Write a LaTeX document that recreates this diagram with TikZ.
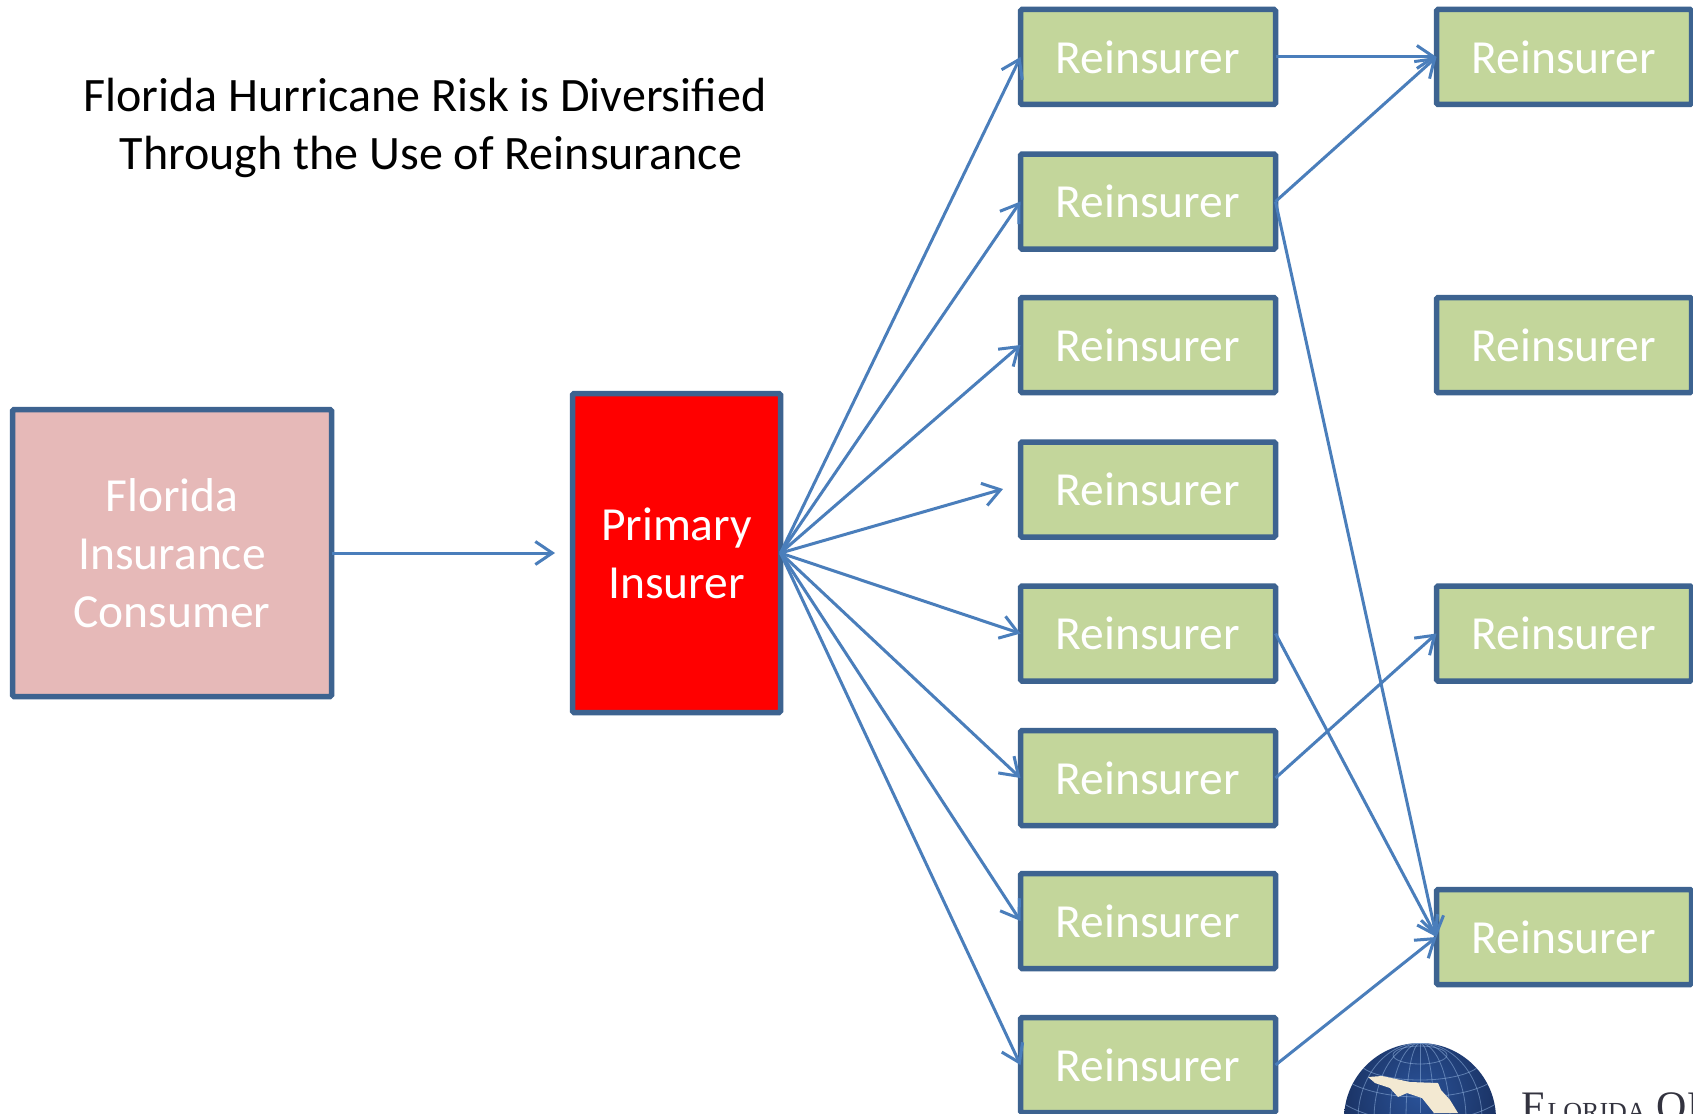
\documentclass[tikz,border=0pt]{standalone}
\usepackage{fontspec}
\setmainfont{Carlito}
\newfontfamily\logofont{Liberation Serif}
\usetikzlibrary{arrows.meta}
\definecolor{boxline}{HTML}{3D6390}
\definecolor{link}{HTML}{4A7EBB}
\definecolor{greenfill}{HTML}{C3D69B}
\definecolor{pinkfill}{HTML}{E6B9B8}
\definecolor{globeblue}{HTML}{2A5298}
\definecolor{globedark}{HTML}{14264F}
\definecolor{gridblue}{HTML}{8FB0DC}
\definecolor{landcream}{HTML}{F3E9D2}
\definecolor{logotextc}{HTML}{33333F}
\tikzset{
  basebox/.style={draw=boxline,line width=5.5pt,rounded corners=1.5pt,outer sep=0pt,inner sep=0pt,
    text=white,align=center,font=\fontsize{47.5}{58}\selectfont},
  reins/.style={basebox,fill=greenfill,minimum width=255pt,minimum height=95pt},
  linkline/.style={draw=link,line width=3pt,-{Straight Barb[length=17pt,width=23pt,line width=3pt]}},
}
\begin{document}
\begin{tikzpicture}[x=1pt,y=-1pt]
\useasboundingbox (0,0) rectangle (1693,1113);
\clip (0,0) rectangle (1693,1113);
\fill[white] (0,0) rectangle (1693,1113);
% title
\node[font=\fontsize{48}{58}\selectfont,align=center,inner sep=0pt,text=black] (title) at (425,128)
  {Florida Hurricane Risk is Diversified\\\hspace*{12pt}Through the Use of Reinsurance};
% main boxes
\node[basebox,fill=pinkfill,minimum width=319pt,minimum height=287pt] (consumer) at (172,553) {Florida\\Insurance\\Consumer};
\node[basebox,fill=red,minimum width=208pt,minimum height=319pt] (primary) at (676.5,553) {Primary\\Insurer};
% first reinsurer column
\foreach \n/\yy in {1/57,2/201.5,3/345,4/489.5,5/633.5,6/778,7/921,8/1065}
  \node[reins] (r\n) at (1148,\yy) {Reinsurer};
% second reinsurer column
\foreach \n/\yy in {1/57,3/345,5/633.5,8/937}
  \node[reins] (s\n) at (1564,\yy) {Reinsurer};
% free ends
\coordinate (cend) at (555,553);
\coordinate (r4end) at (1003,489);
% connectors
\draw[linkline] (consumer.east) -- (cend);
\foreach \n in {1,2,3,5,6,7,8}
  \draw[linkline] (primary.east) -- (r\n.west);
\draw[linkline] (primary.east) -- (r4end);
\draw[linkline] (r1.east) -- (s1.west);
\draw[linkline] (r2.east) -- (s1.west);
\draw[linkline] (r2.east) -- (s8.west);
\draw[linkline] (r5.east) -- (s8.west);
\draw[linkline] (r6.east) -- (s5.west);
\draw[linkline] (r8.east) -- (s8.west);
% logo globe
\begin{scope}
  \clip (1420,1119) circle [radius=76];
  \shade[inner color=globeblue,outer color=globedark] (1420,1095) circle [radius=110];
  \begin{scope}[draw=gridblue,line width=.8pt,opacity=.55]
    \draw (1420,1055) ellipse [x radius=27,y radius=9];
    \draw (1420,1060) ellipse [x radius=62,y radius=20];
    \draw (1420,1064) ellipse [x radius=85,y radius=33];
    \draw (1420,1070) ellipse [x radius=100,y radius=52];
    \foreach \hh in {14,30,46,62}
      \draw (1420,1119) ellipse [x radius=\hh,y radius=76];
    \draw (1420,1043) -- (1420,1113);
  \end{scope}
  \fill[landcream] (1368,1077) -- (1382,1076) -- (1410,1082) -- (1438,1083) -- (1441,1090)
    -- (1450,1100) -- (1458,1113) -- (1434,1113) -- (1422,1098) -- (1407,1093) -- (1398,1097)
    -- (1390,1088) -- (1375,1083) -- cycle;
\end{scope}
\node[anchor=base west,inner sep=0pt,text=logotextc,font=\logofont] (logotext) at (1521,1120)
  {\fontsize{42}{42}\selectfont F\kern3pt\fontsize{26}{26}\selectfont LORIDA\kern11pt\fontsize{42}{42}\selectfont OF};
\end{tikzpicture}
\end{document}
